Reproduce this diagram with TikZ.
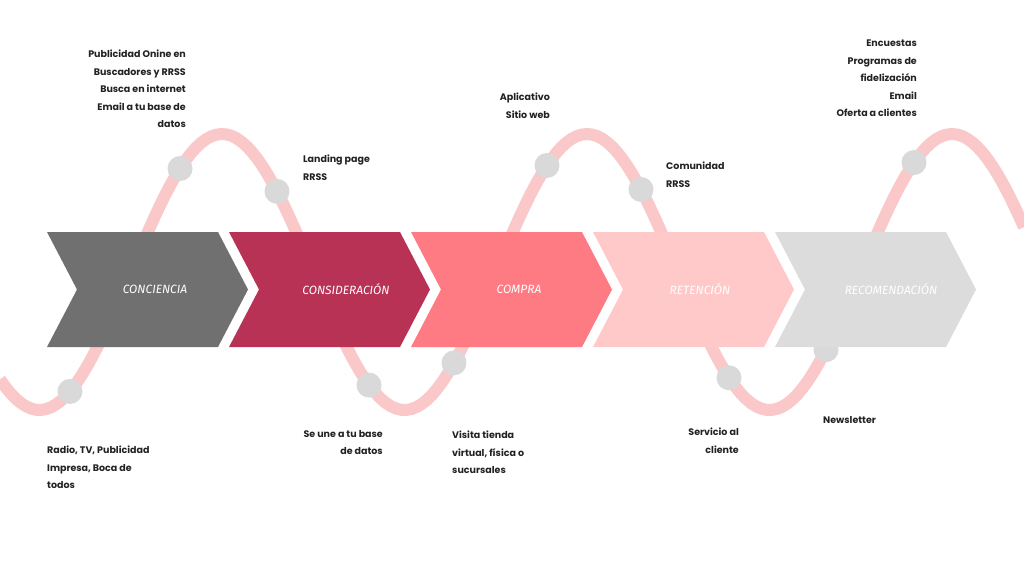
\documentclass[tikz,border=0pt]{standalone}
\usepackage{fontspec}
\setmainfont{Poppins}
\newfontfamily\chevfont{Fira Sans}
\definecolor{wave}{HTML}{FAC8C8}
\definecolor{dot}{HTML}{D9D9D9}
\definecolor{cA}{HTML}{707070}
\definecolor{cB}{HTML}{B83256}
\definecolor{cC}{HTML}{FF7B84}
\definecolor{cD}{HTML}{FFC9C9}
\definecolor{cE}{HTML}{DCDCDC}
\definecolor{txt}{HTML}{222222}
\tikzset{
  dotc/.style={circle,fill=dot,inner sep=0pt,minimum size=25pt},
  lab/.style={font=\fontsize{9.5}{17.5}\selectfont\bfseries,text=txt,inner sep=0pt},
  chevtxt/.style={font=\chevfont\itshape\fontsize{12}{14}\selectfont,text=white}
}
\newcommand{\chev}[3]{%
 \fill[#2] (#1,232) -- (#1+171,232) -- (#1+201,289.5) -- (#1+171,347) -- (#1,347) -- (#1+30,289.5) -- cycle;}
\begin{document}
\begin{tikzpicture}[x=1pt,y=-1pt]
\useasboundingbox (0,0) rectangle (1024,576);
\fill[white] (0,0) rectangle (1024,576);
\draw[wave,line width=12pt] plot[domain=0:1024,samples=200] (\x,{272-138*cos((\x-222)*0.98630)});
\foreach \xx/\nm in {70/d1,180/d2,277/d3,369/d4,454/d5,547/d6,641/d7,729/d8,826/d9,914/d10}
  \node[dotc] (\nm) at (\xx,{272-138*cos((\xx-222)*0.98630)}) {};
\chev{47}{cA}{1}\chev{229}{cB}{2}\chev{411}{cC}{3}\chev{593}{cD}{4}\chev{775}{cE}{5}
\node[chevtxt] (c1) at (155,289.5) {CONCIENCIA};
\node[chevtxt] (c2) at (346,289.5) {CONSIDERACIÓN};
\node[chevtxt] (c3) at (519,289.5) {COMPRA};
\node[chevtxt] (c4) at (700,289.5) {RETENCIÓN};
\node[chevtxt] (c5) at (891,289.5) {RECOMENDACIÓN};
\node[lab,align=right,anchor=north east] (t1) at (186,50) {Publicidad Onine en\\Buscadores y RRSS\\Busca en internet\\Email a tu base de\\datos};
\node[lab,align=left,anchor=north west] (t2) at (303,155) {Landing page\\RRSS};
\node[lab,align=right,anchor=north east] (t3) at (550,93) {Aplicativo\\Sitio web};
\node[lab,align=left,anchor=north west] (t4) at (666,162) {Comunidad\\RRSS};
\node[lab,align=right,anchor=north east] (t5) at (917,40) {Encuestas\\Programas de\\fidelización\\Email\\Oferta a clientes};
\node[lab,align=left,anchor=north west] (b1) at (47,446) {Radio, TV, Publicidad\\Impresa, Boca de\\todos};
\node[lab,align=right,anchor=north east] (b2) at (383,430) {Se une a tu base\\de datos};
\node[lab,align=left,anchor=north west] (b3) at (452,431) {Visita tienda\\virtual, física o\\sucursales};
\node[lab,align=right,anchor=north east] (b4) at (739,428) {Servicio al\\cliente};
\node[lab,align=left,anchor=north west] (b5) at (823,416) {Newsletter};
\end{tikzpicture}
\end{document}
